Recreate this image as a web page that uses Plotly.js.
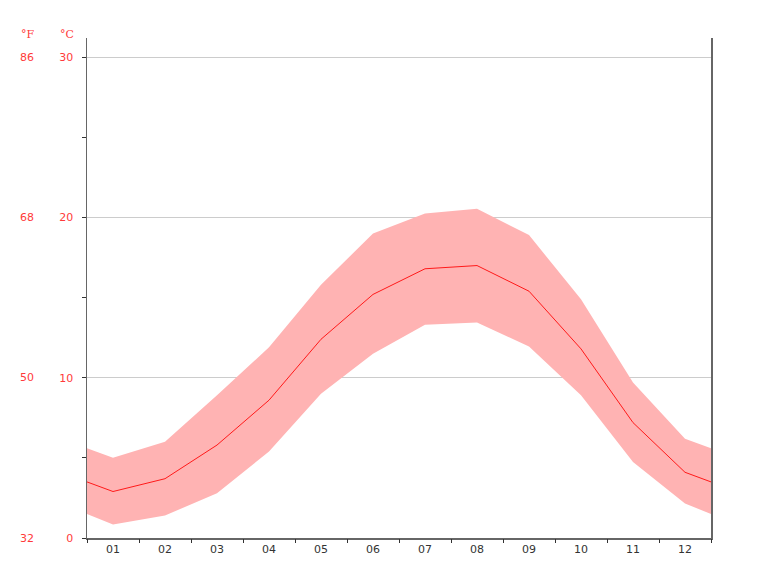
<!DOCTYPE html>
<html>
<head>
<meta charset="utf-8">
<script src="https://cdn.plot.ly/plotly-3.0.1.min.js"></script>
<style>html,body{margin:0;padding:0;background:#fff;}#chart{width:768px;height:576px;}</style>
</head>
<body>
<div id="chart"></div>
<script>
// x positions: half-month wrap at both ends, then months 1..12
const monthPos = [0.5, 1, 2, 3, 4, 5, 6, 7, 8, 9, 10, 11, 12, 12.5];
const monthLabels = ["01","02","03","04","05","06","07","08","09","10","11","12"];
const monthTickVals = [1,2,3,4,5,6,7,8,9,10,11,12];
const tempMean = [3.5, 2.9, 3.7, 5.8, 8.6, 12.4, 15.2, 16.8, 17.0, 15.4, 11.8, 7.2, 4.1, 3.5];
const tempMax  = [5.6, 5.0, 6.0, 8.9, 11.9, 15.8, 19.0, 20.25, 20.55, 18.9, 14.9, 9.7, 6.2, 5.6];
const tempMin  = [1.5, 0.85, 1.4, 2.8, 5.4, 9.0, 11.5, 13.3, 13.45, 11.95, 8.9, 4.75, 2.15, 1.5];
const celsiusTicks = [0, 10, 20, 30];
const fahrenheitTicks = ["32", "50", "68", "86"];
const boundaryTicks = [0.5,1.5,2.5,3.5,4.5,5.5,6.5,7.5,8.5,9.5,10.5,11.5,12.5];

const red = "#ff3a3a";
const plotL = 87, plotW = 624, plotT = 38, plotH = 500;
const px2paperX = p => (p - plotL) / plotW;
const px2paperY = p => 1 - (p - plotT) / plotH;

const traces = [
  {x: monthPos, y: tempMin, type: "scatter", mode: "lines", line: {width: 0, color: "rgba(0,0,0,0)"}, hoverinfo: "skip", showlegend: false},
  {x: monthPos, y: tempMax, type: "scatter", mode: "lines", line: {width: 0, color: "rgba(0,0,0,0)"}, fill: "tonexty", fillcolor: "#ffb3b3", hoverinfo: "skip", showlegend: false},
  {x: monthPos, y: tempMean, type: "scatter", mode: "lines", line: {width: 1, color: "#ff1a1a"}, showlegend: false},
  {x: [0.5, 12.5], y: [0, 0], xaxis: "x2", type: "scatter", mode: "lines", line: {width: 0}, hoverinfo: "skip", showlegend: false}
];

const annotations = celsiusTicks.map((c, i) => ({
  x: px2paperX(36), xref: "paper", xanchor: "right", y: c, yref: "y", yanchor: "middle",
  text: fahrenheitTicks[i], showarrow: false, font: {family: "DejaVu Sans", size: 11, color: red}
}));
annotations.push({x: px2paperX(28), xref: "paper", xanchor: "center", y: px2paperY(34), yref: "paper", yanchor: "middle", text: "°F", showarrow: false, font: {family: "DejaVu Serif", size: 11, color: red}});
annotations.push({x: px2paperX(67), xref: "paper", xanchor: "center", y: px2paperY(34), yref: "paper", yanchor: "middle", text: "°C", showarrow: false, font: {family: "DejaVu Serif", size: 11, color: red}});

const layout = {
  width: 768, height: 576,
  margin: {l: plotL, r: 768 - plotL - plotW, t: plotT, b: 576 - plotT - plotH},
  paper_bgcolor: "#fff", plot_bgcolor: "#fff",
  showlegend: false,
  xaxis: {
    range: [0.5, 12.5], tickvals: monthTickVals, ticktext: monthLabels, ticks: "", showgrid: false, zeroline: false,
    showline: true, linecolor: "#666", linewidth: 1.5,
    tickfont: {family: "DejaVu Sans", size: 11, color: "#333"}
  },
  xaxis2: {
    range: [0.5, 12.5], overlaying: "x", side: "bottom", anchor: "y", tickvals: boundaryTicks, ticks: "outside", ticklen: 4, tickcolor: "#333",
    showticklabels: false, showgrid: false, zeroline: false, showline: false
  },
  yaxis: {
    range: [0, 31.2], tickvals: celsiusTicks, ticks: "outside", ticklen: 4, tickcolor: "#333",
    showgrid: true, gridcolor: "#cccccc", gridwidth: 1, zeroline: false,
    showline: true, mirror: true, linecolor: "#666", linewidth: 1.5,
    tickfont: {family: "DejaVu Sans", size: 11, color: red}, ticklabelstandoff: 6,
    minor: {dtick: 5, tick0: 0, ticks: "outside", ticklen: 4, tickcolor: "#333", showgrid: false}
  },
  annotations: annotations
};
Plotly.newPlot("chart", traces, layout, {staticPlot: true});
</script>
</body>
</html>
